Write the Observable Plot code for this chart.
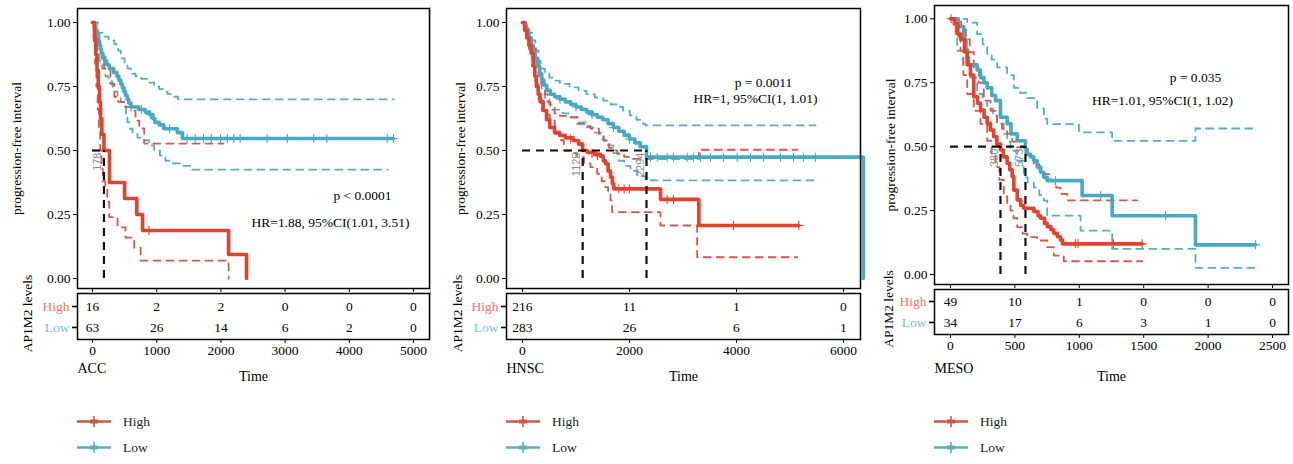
<!DOCTYPE html>
<html><head><meta charset="utf-8">
<script src="https://cdn.jsdelivr.net/npm/d3@7"></script>
<script src="https://cdn.jsdelivr.net/npm/@observablehq/plot@0.6"></script>
<style>
body{margin:0;background:#fff;}
#root{position:relative;width:1293px;height:464px;overflow:hidden;background:#fff;font-family:"Liberation Serif","Times New Roman",serif;}
.leg{position:absolute;font-size:13.5px;color:#222;line-height:14px;}
.leg svg{position:absolute;left:0;top:-1px;}
.leg span{position:absolute;white-space:nowrap;}
.sep{position:absolute;left:430px;top:7px;width:1px;height:331px;background:#a8a8a8;z-index:5;}
</style></head><body><div id="root"></div>
<script>
// ---------- ACC ----------
const accTicks = [0, 1000, 2000, 3000, 4000, 5000];
const accRiskHigh = [16, 2, 2, 0, 0, 0];
const accRiskLow = [63, 26, 14, 6, 2, 0];
const accHigh = [[0,1],[30,0.9375],[50,0.875],[70,0.8125],[90,0.75],[110,0.6875],[125,0.625],[145,0.5625],[178,0.5],[265,0.375],[500,0.3125],[690,0.25],[780,0.1875],[2120,0.09375],[2400,0]];
const accHighUpper = [[0,1],[40,0.97],[83,0.95],[120,0.9],[150,0.85],[180,0.82],[280,0.76],[340,0.71],[400,0.69],[520,0.67],[650,0.656],[670,0.617],[727,0.586],[805,0.527],[2040,0.527]];
const accHighLower = [[0,1],[20,0.92],[40,0.84],[60,0.75],[80,0.66],[100,0.58],[120,0.5],[140,0.43],[160,0.38],[200,0.35],[230,0.3],[260,0.24],[390,0.2],[514,0.16],[650,0.12],[750,0.07],[2120,0]];
const accLow = [[0,1],[30,0.985],[50,0.97],[65,0.955],[80,0.94],[95,0.925],[110,0.91],[125,0.895],[140,0.88],[160,0.865],[190,0.85],[220,0.835],[260,0.82],[330,0.805],[380,0.79],[410,0.775],[440,0.76],[465,0.745],[490,0.73],[515,0.715],[540,0.7],[565,0.685],[600,0.67],[720,0.66],[820,0.65],[890,0.64],[940,0.625],[970,0.61],[1040,0.6],[1110,0.585],[1320,0.57],[1400,0.547],[4690,0.547]];
const accLowUpper = [[0,1],[80,0.96],[150,0.945],[250,0.93],[340,0.915],[400,0.89],[440,0.86],[500,0.84],[545,0.82],[600,0.8],[670,0.79],[760,0.78],[880,0.765],[960,0.75],[1040,0.74],[1100,0.73],[1170,0.72],[1250,0.71],[1330,0.7],[4690,0.7]];
const accLowLower = [[0,1],[40,0.95],[78,0.89],[110,0.85],[150,0.82],[200,0.79],[250,0.77],[310,0.75],[350,0.73],[390,0.71],[440,0.69],[490,0.67],[520,0.64],[545,0.61],[580,0.585],[623,0.566],[700,0.55],[805,0.54],[880,0.52],[960,0.5],[1050,0.48],[1137,0.46],[1250,0.45],[1370,0.44],[1525,0.425],[4600,0.425]];
const accHighCensor = [[880,0.1875]];
const accLowCensor = [[600,0.67],[760,0.66],[900,0.64],[1200,0.585],[1475,0.547],[1600,0.547],[1730,0.547],[1850,0.547],[1995,0.547],[2100,0.547],[2200,0.547],[2300,0.547],[2720,0.547],[3035,0.547],[3445,0.547],[3650,0.547],[4590,0.547],[4690,0.547]];
const accMedians = [178];
const accMedianLabels = ["178"];

// ---------- HNSC ----------
const hnscTicks = [0, 2000, 4000, 6000];
const hnscRiskHigh = [216, 11, 1, 0];
const hnscRiskLow = [283, 26, 6, 1];
const hnscHigh = [[0,1],[40,0.97],[80,0.94],[120,0.91],[160,0.88],[200,0.83],[230,0.79],[260,0.75],[293,0.72],[330,0.69],[386,0.656],[450,0.62],[510,0.59],[600,0.57],[697,0.559],[800,0.55],[947,0.539],[1050,0.525],[1125,0.5],[1209,0.493],[1350,0.485],[1458,0.478],[1510,0.46],[1551,0.448],[1600,0.42],[1645,0.396],[1680,0.37],[1707,0.35],[2579,0.309],[3296,0.207],[5165,0.207]];
const hnscHighUpper = [[0,1],[60,0.99],[120,0.95],[180,0.91],[250,0.85],[300,0.8],[350,0.76],[420,0.72],[470,0.69],[520,0.66],[600,0.645],[700,0.635],[900,0.63],[1022,0.604],[1150,0.595],[1271,0.586],[1427,0.565],[1520,0.539],[1620,0.51],[1676,0.5],[1770,0.487],[1900,0.475],[2019,0.467],[3296,0.503],[5134,0.503]];
const hnscHighLower = [[0,1],[60,0.95],[120,0.89],[180,0.83],[240,0.76],[300,0.7],[360,0.66],[420,0.64],[510,0.617],[604,0.565],[700,0.54],[772,0.5],[900,0.49],[1022,0.474],[1150,0.45],[1271,0.435],[1396,0.409],[1480,0.38],[1551,0.357],[1600,0.33],[1645,0.305],[1676,0.259],[2579,0.207],[3265,0.083],[5134,0.083]];
const hnscLow = [[0,1],[40,0.98],[80,0.96],[120,0.94],[160,0.91],[200,0.88],[240,0.86],[280,0.83],[320,0.8],[360,0.775],[400,0.755],[450,0.735],[520,0.72],[600,0.71],[700,0.7],[800,0.69],[900,0.68],[1000,0.67],[1100,0.66],[1200,0.65],[1300,0.64],[1400,0.63],[1500,0.62],[1600,0.605],[1700,0.59],[1800,0.575],[1900,0.56],[2000,0.545],[2100,0.53],[2200,0.515],[2318,0.474],[6370,0]];
const hnscLowUpper = [[0,1],[60,0.99],[120,0.96],[180,0.93],[240,0.89],[300,0.85],[340,0.82],[420,0.8],[500,0.785],[573,0.773],[700,0.76],[880,0.747],[1050,0.733],[1196,0.72],[1350,0.707],[1508,0.695],[1650,0.68],[1757,0.67],[1880,0.655],[2006,0.637],[2130,0.62],[2256,0.604],[2300,0.598],[5477,0.598]];
const hnscLowLower = [[0,1],[60,0.96],[120,0.92],[180,0.88],[240,0.84],[300,0.79],[360,0.74],[420,0.7],[500,0.68],[600,0.66],[750,0.645],[900,0.63],[1050,0.61],[1200,0.59],[1350,0.57],[1500,0.54],[1600,0.52],[1700,0.49],[1800,0.46],[1900,0.44],[2019,0.42],[2150,0.4],[2300,0.383],[5477,0.383]];
const hnscHighCensor = [[900,0.545],[1300,0.488],[1400,0.48],[1800,0.35],[1900,0.35],[2000,0.35],[2704,0.309],[2822,0.309],[3944,0.207],[5165,0.207]];
const hnscLowCensor = [[700,0.7],[1000,0.67],[1300,0.64],[1700,0.59],[2000,0.545],[2393,0.474],[2518,0.474],[2704,0.474],[2822,0.474],[3078,0.474],[3196,0.474],[3327,0.474],[3514,0.474],[3757,0.474],[4013,0.474],[4262,0.474],[4505,0.474],[4822,0.474],[5065,0.474],[5252,0.474],[5477,0.474]];
const hnscMedians = [1125, 2318];
const hnscMedianLabels = ["1125", "2294"];

// ---------- MESO ----------
const mesoTicks = [0, 500, 1000, 1500, 2000, 2500];
const mesoRiskHigh = [49, 10, 1, 0, 0, 0];
const mesoRiskLow = [34, 17, 6, 3, 1, 0];
const mesoHigh = [[0,1],[30,0.98],[57,0.94],[80,0.92],[109,0.87],[130,0.82],[155,0.78],[181,0.695],[210,0.67],[233,0.643],[260,0.615],[285,0.591],[310,0.565],[336,0.539],[360,0.51],[388,0.487],[410,0.46],[440,0.435],[460,0.41],[479,0.383],[492,0.33],[518,0.292],[545,0.27],[569,0.259],[647,0.246],[680,0.23],[699,0.22],[730,0.2],[751,0.1875],[780,0.175],[802,0.161],[830,0.148],[854,0.135],[870,0.12],[1488,0.12]];
const mesoHighUpper = [[0,1],[40,0.99],[83,0.97],[120,0.92],[150,0.87],[181,0.81],[220,0.75],[259,0.68],[311,0.64],[362,0.589],[400,0.57],[440,0.55],[480,0.52],[518,0.497],[582,0.47],[647,0.432],[690,0.41],[725,0.393],[776,0.367],[820,0.34],[854,0.315],[906,0.29],[1450,0.29]];
const mesoHighLower = [[0,1],[40,0.93],[78,0.875],[100,0.78],[130,0.706],[181,0.64],[233,0.589],[285,0.523],[320,0.47],[350,0.42],[380,0.37],[414,0.315],[440,0.28],[466,0.25],[490,0.22],[518,0.185],[560,0.16],[595,0.146],[673,0.133],[751,0.107],[802,0.074],[880,0.052],[1488,0.052]];
const mesoLow = [[0,1],[60,0.97],[103,0.92],[120,0.88],[130,0.85],[140,0.82],[207,0.8],[233,0.77],[260,0.75],[285,0.73],[320,0.7],[350,0.68],[388,0.615],[440,0.59],[470,0.55],[518,0.523],[582,0.49],[595,0.47],[620,0.46],[647,0.445],[673,0.42],[700,0.4],[725,0.38],[751,0.367],[1022,0.309],[1255,0.23],[1902,0.116],[2368,0.116]];
const mesoLowUpper = [[0,1],[130,0.985],[207,0.94],[250,0.9],[285,0.862],[320,0.84],[362,0.81],[440,0.78],[492,0.73],[540,0.71],[595,0.69],[673,0.65],[725,0.61],[751,0.588],[997,0.556],[1255,0.523],[1902,0.571],[2380,0.571]];
const mesoLowLower = [[0,1],[52,0.875],[100,0.82],[155,0.77],[207,0.706],[250,0.68],[285,0.65],[330,0.62],[362,0.59],[414,0.55],[440,0.52],[466,0.484],[518,0.445],[569,0.38],[600,0.36],[647,0.341],[690,0.31],[725,0.289],[751,0.23],[1010,0.172],[1255,0.1],[1902,0.026],[2380,0.026]];
const mesoHighCensor = [[5,1],[970,0.12],[990,0.12],[1265,0.12],[1488,0.12]];
const mesoLowCensor = [[815,0.367],[1165,0.309],[1670,0.23],[2368,0.116]];
const mesoMedians = [388, 582];
const mesoMedianLabels = ["380", "573"];

const groups = ["High", "Low"];

// ---------- styling ----------
const FONT = '"Liberation Serif","Times New Roman",serif';
const FS = 13.5;
const RED = "#e2432f", TEAL = "#47a9c3";
const RED_CI = "#d9574a", TEAL_CI = "#5aaeb8";
const RED_LBL = "#f2766a", TEAL_LBL = "#7bbfcc";
const RED_LEG = "#c85a47", TEAL_LEG = "#5db0b5";

const panels = [
  {left: 0, width: 430, mL: 77, mR: 1, mainTop: 0, mainH: 292, mT: 8, mB: 4, yDom: [-0.039, 1.0547],
   riskTop: 289, riskFrameH: 46, xDom: [-234, 5250], ticks: accTicks, rh: accRiskHigh, rl: accRiskLow,
   high: accHigh, highU: accHighUpper, highL: accHighLower, low: accLow, lowU: accLowUpper, lowL: accLowLower,
   hc: accHighCensor, lc: accLowCensor, med: accMedians, medLab: accMedianLabels,
   p: "p < 0.0001", hr: "HR=1.88, 95%CI(1.01, 3.51)", pPos: [285, 187], hrPos: [253, 214],
   cancer: "ACC", yTitleDx: -61, rTitleDx: -50, labDy: 29, medDx: -6},
  {left: 430, width: 440, mL: 76, mR: 10, mainTop: 0, mainH: 292, mT: 8, mB: 4, yDom: [-0.039, 1.0547],
   riskTop: 289, riskFrameH: 46, xDom: [-299, 6318], ticks: hnscTicks, rh: hnscRiskHigh, rl: hnscRiskLow,
   high: hnscHigh, highU: hnscHighUpper, highL: hnscHighLower, low: hnscLow, lowU: hnscLowUpper, lowL: hnscLowLower,
   hc: hnscHighCensor, lc: hnscLowCensor, med: hnscMedians, medLab: hnscMedianLabels,
   p: "p = 0.0011", hr: "HR=1, 95%CI(1, 1.01)", pPos: [257, 74], hrPos: [249, 90],
   cancer: "HNSC", yTitleDx: -46, rTitleDx: -49, labDy: 29, medDx: -6},
  {left: 870, width: 423, mL: 64, mR: 5, mainTop: 0, mainH: 288, mT: 5, mB: 4, yDom: [-0.039, 1.052],
   riskTop: 285, riskFrameH: 45, xDom: [-124, 2624], ticks: mesoTicks, rh: mesoRiskHigh, rl: mesoRiskLow,
   high: mesoHigh, highU: mesoHighUpper, highL: mesoHighLower, low: mesoLow, lowU: mesoLowUpper, lowL: mesoLowLower,
   hc: mesoHighCensor, lc: mesoLowCensor, med: mesoMedians, medLab: mesoMedianLabels,
   p: "p = 0.035", hr: "HR=1.01, 95%CI(1, 1.02)", pPos: [261, 72], hrPos: [228, 95],
   cancer: "MESO", yTitleDx: -44, rTitleDx: -46, labDy: 34, medDx: -6}
];

const root = document.getElementById("root");
const toPts = a => a.map(([t, s]) => ({t, s}));

function place(el, left, top) {
  el.style.position = "absolute";
  el.style.left = left + "px";
  el.style.top = top + "px";
  el.style.background = "transparent";
  el.style.overflow = "visible";
  root.appendChild(el);
}

const txt = {textAnchor: "middle", lineAnchor: "middle", fontSize: FS};

for (const c of panels) {
  const ci = (arr, color) => Plot.line(toPts(arr), {x: "t", y: "s", curve: "step-after", stroke: color, strokeWidth: 1.8, strokeDasharray: "7,6"});
  const km = (arr, color) => Plot.line(toPts(arr), {x: "t", y: "s", curve: "step-after", stroke: color, strokeWidth: 3.6});
  const cens = (arr, color) => Plot.dot(toPts(arr), {x: "t", y: "s", symbol: "plus", r: 3, stroke: color, strokeWidth: 1.1});
  const medMax = d3.max(c.med);

  const main = Plot.plot({
    width: c.width, height: c.mainH,
    marginLeft: c.mL, marginRight: c.mR, marginTop: c.mT, marginBottom: c.mB,
    style: {fontFamily: FONT, fontSize: FS + "px", color: "black", background: "transparent", overflow: "visible"},
    x: {domain: c.xDom, label: null},
    y: {domain: c.yDom, label: null},
    marks: [
      Plot.axisY({ticks: [0, 0.25, 0.5, 0.75, 1], tickFormat: d3.format(".2f"), tickSize: 4, tickPadding: 3, label: null, fontSize: FS}),
      Plot.axisX({ticks: c.ticks, tickFormat: () => "", tickSize: 4, label: null}),
      ci(c.lowU, TEAL_CI), ci(c.lowL, TEAL_CI),
      ci(c.highU, RED_CI), ci(c.highL, RED_CI),
      km(c.low, TEAL), km(c.high, RED),
      cens(c.lc, TEAL), cens(c.hc, RED),
      Plot.ruleY([0.5], {x1: 0, x2: medMax, stroke: "#111", strokeWidth: 2.2, strokeDasharray: "8,6"}),
      Plot.ruleX(c.med, {y1: 0, y2: 0.5, stroke: "#111", strokeWidth: 2.2, strokeDasharray: "8,6"}),
      Plot.text(c.med, {x: d => d, y: 0.5, text: (d, i) => c.medLab[i], rotate: -90, textAnchor: "end", lineAnchor: "middle", dx: c.medDx, dy: 2, fill: "#8c8c8c", fontFamily: "Liberation Sans, Arial, sans-serif", fontSize: 11}),
      Plot.text([c.p], {...txt, frameAnchor: "top-left", dx: c.pPos[0], dy: c.pPos[1], text: d => d}),
      Plot.text([c.hr], {...txt, frameAnchor: "top-left", dx: c.hrPos[0], dy: c.hrPos[1], text: d => d}),
      Plot.text(["progression-free interval"], {...txt, frameAnchor: "left", dx: c.yTitleDx, rotate: -90, text: d => d}),
      Plot.frame({stroke: "black", strokeWidth: 1.5})
    ]
  });
  place(main, c.left, c.mainTop);

  const riskData = [];
  c.ticks.forEach((t, i) => {
    riskData.push({t, g: "High", n: c.rh[i]});
    riskData.push({t, g: "Low", n: c.rl[i]});
  });
  const rH = 4 + c.riskFrameH + 60;
  const risk = Plot.plot({
    width: c.width, height: rH,
    marginLeft: c.mL, marginRight: c.mR, marginTop: 4, marginBottom: 60,
    style: {fontFamily: FONT, fontSize: FS + "px", color: "black", background: "transparent", overflow: "visible"},
    x: {domain: c.xDom, label: null},
    y: {type: "point", domain: groups, padding: 0.55, label: null},
    marks: [
      Plot.axisX({ticks: c.ticks, tickFormat: d => String(d), tickSize: 4, tickPadding: 2, label: null, fontSize: FS}),
      Plot.axisY({tickFormat: () => "", tickSize: 5, strokeWidth: 1.6, label: null}),
      Plot.text(["High"], {y: d => d, frameAnchor: "left", dx: -8, textAnchor: "end", lineAnchor: "middle", text: d => d, fill: RED_LBL, fontSize: FS}),
      Plot.text(["Low"], {y: d => d, frameAnchor: "left", dx: -8, textAnchor: "end", lineAnchor: "middle", text: d => d, fill: TEAL_LBL, fontSize: FS}),
      Plot.text(riskData, {...txt, x: "t", y: "g", text: "n"}),
      Plot.text(["AP1M2 levels"], {...txt, frameAnchor: "left", dx: c.rTitleDx, dy: -3, rotate: -90, text: d => d}),
      Plot.text([c.cancer], {...txt, textAnchor: "start", frameAnchor: "bottom-left", dy: c.labDy, text: d => d, fontSize: 14}),
      Plot.text(["Time"], {...txt, frameAnchor: "bottom", dy: c.labDy + 8, text: d => d, fontSize: 14}),
      Plot.frame({stroke: "black", strokeWidth: 1.5})
    ]
  });
  place(risk, c.left, c.riskTop);

  // legend (below the charts)
  const legLeft = c.left + c.mL;
  [["High", RED_LEG, 415], ["Low", TEAL_LEG, 441]].forEach(([lab, col, top]) => {
    const d = document.createElement("div");
    d.className = "leg";
    d.style.left = legLeft + "px";
    d.style.top = top + "px";
    d.innerHTML = `<svg width="36" height="14"><line x1="0" x2="34" y1="7.5" y2="7.5" stroke="${col}" stroke-width="2.4"/><line x1="13" x2="21" y1="7.5" y2="7.5" stroke="${col}" stroke-width="4"/><line x1="17" x2="17" y1="2" y2="13" stroke="${col}" stroke-width="1.6"/></svg><span style="left:46px;top:0px">${lab}</span>`;
    root.appendChild(d);
  });
}

// thin panel-edge line seen at the left of the middle panel
const sep = document.createElement("div");
sep.className = "sep";
root.appendChild(sep);
</script></body></html>
